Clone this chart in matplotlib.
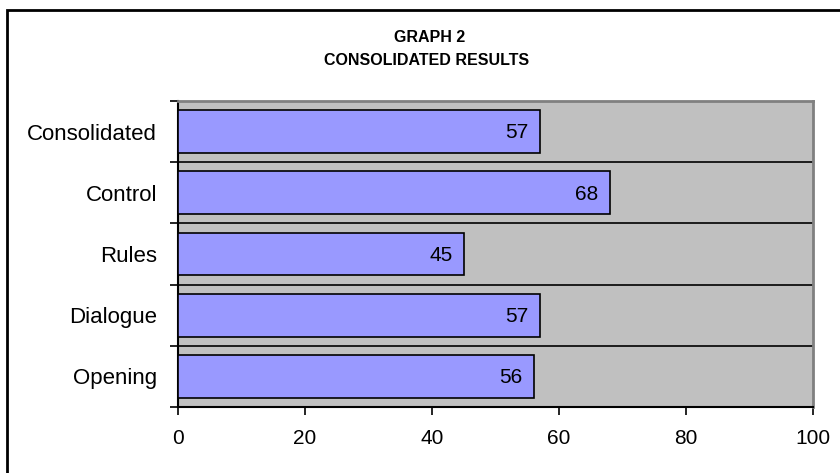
import numpy as np
import matplotlib.pyplot as plt
from matplotlib.patches import Rectangle

# categories listed bottom -> top, as drawn
categories = ['Opening', 'Dialogue', 'Rules', 'Control', 'Consolidated']
values = [56, 57, 45, 68, 57]
x_ticks = [0, 20, 40, 60, 80, 100]

plt.rcParams['font.family'] = ['Liberation Sans', 'DejaVu Sans']

fig = plt.figure(figsize=(8.4, 4.73), dpi=100)
ax = fig.add_axes([0.2119, 0.1395, 0.756, 0.647])

pos = np.arange(len(categories))
ax.set_facecolor('#C0C0C0')
ax.barh(pos, values, height=0.7, color='#9999FF', edgecolor='black', linewidth=1.2, zorder=3)

# value labels inside the bar ends
for p, v in zip(pos, values):
    ax.annotate(str(v), xy=(v, p), xytext=(-8, -1), textcoords='offset points',
                ha='right', va='center', fontsize=15, zorder=4)

ax.set_xlim(0, 100)
ax.set_ylim(-0.5, len(categories) - 0.5)
ax.set_xticks(x_ticks)
ax.set_xticklabels([str(t) for t in x_ticks], fontsize=15)
ax.set_yticks(pos)
ax.set_yticklabels(categories, fontsize=16)
ax.set_yticks(np.arange(len(categories) + 1) - 0.5, minor=True)

ax.tick_params(axis='y', which='major', length=0, pad=15)
ax.tick_params(axis='y', which='minor', length=6, width=1.2, direction='out')
ax.tick_params(axis='x', which='major', length=6, width=1.2, direction='out', pad=10)
ax.grid(axis='y', which='minor', color='black', linewidth=1.2, zorder=1)
ax.set_axisbelow(True)

for side in ['left', 'bottom']:
    ax.spines[side].set_color('black')
    ax.spines[side].set_linewidth(1.5)
for side in ['top', 'right']:
    ax.spines[side].set_color('#808080')
    ax.spines[side].set_linewidth(2)

fig.text(0.511, 0.921, 'GRAPH 2', ha='center', va='center', fontsize=11.5, fontweight='bold')
fig.text(0.508, 0.872, 'CONSOLIDATED RESULTS', ha='center', va='center', fontsize=11.5, fontweight='bold')

# outer frame, right and bottom edges fall outside the picture
fig.patches.append(Rectangle((7 / 840, -0.2), 1.2, 1.2 - 10 / 473, transform=fig.transFigure,
                             fill=False, edgecolor='black', linewidth=2))

fig.savefig('out.png', dpi=100)
